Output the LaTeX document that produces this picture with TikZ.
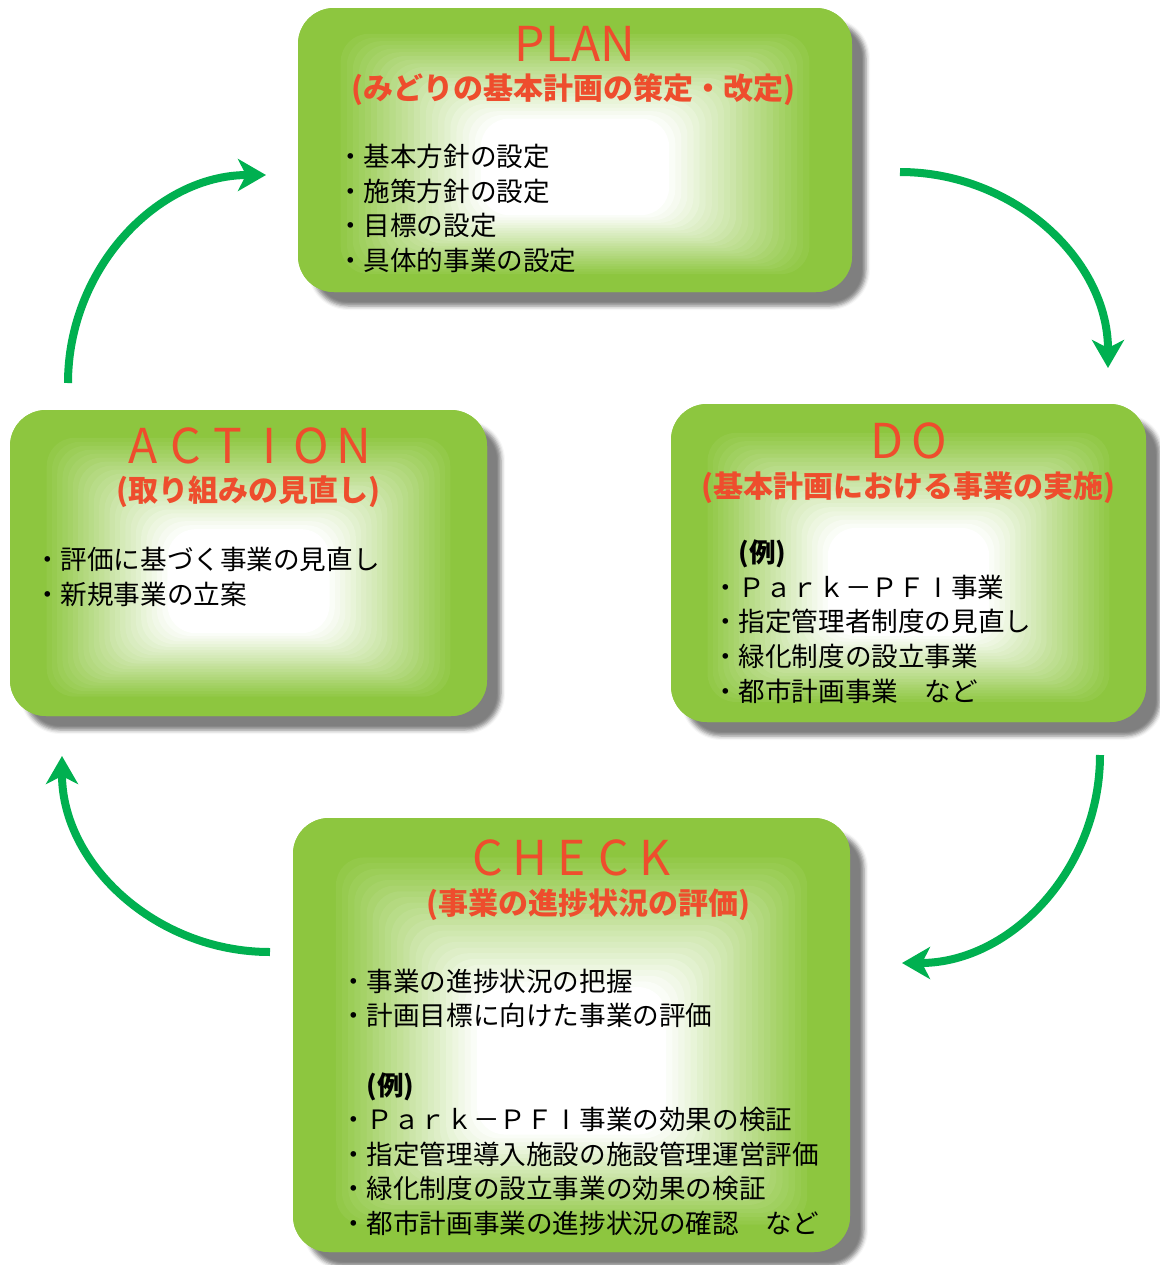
\documentclass[tikz,border=0pt]{standalone}
\usepackage{fontspec}
\setmainfont{Noto Sans CJK JP}
\usepackage{tikz}
\usetikzlibrary{arrows.meta,positioning,calc,shadows.blur}

\definecolor{stagegreen}{RGB}{141,198,63}
\definecolor{titlered}{RGB}{238,77,45}
\definecolor{cyclegreen}{RGB}{0,176,80}

% one spaced title letter, and the plain bar I used in "PFI"
\newcommand\wl[1]{\makebox[21pt]{#1}}
\newcommand\barI{\makebox[1em]{I}}

\begin{document}
\begin{tikzpicture}[
        x=0.5pt, y=-0.5pt,
        every node/.style={inner sep=0pt},
        stage/.style={rounded corners=18pt, fill=stagegreen,
            blur shadow={shadow xshift=7pt, shadow yshift=-7pt, shadow blur radius=2pt, shadow opacity=50},
            path picture={
                \coordinate (glow) at ($(path picture bounding box.center)!0.18!(path picture bounding box.south)$);
                \foreach \k in {0,...,36}{
                    \pgfmathsetmacro\sc{1-0.022*\k}
                    \pgfmathtruncatemacro\pc{max(0,min(100,125-150*\k/36))}
                    \fill[stagegreen!\pc!white, rounded corners=14pt]
                        ($(glow)!\sc!(path picture bounding box.south west)$) rectangle
                        ($(glow)!\sc!(path picture bounding box.north east)$);
                }
            }},
        stagetitle/.style={text=titlered, font=\fontsize{24}{28}\selectfont},
        subtitle/.style={text=titlered, font=\fontsize{15}{18}\selectfont\bfseries},
        items/.style={anchor=north west, align=left, font=\fontsize{13.3}{17.3}\selectfont},
        cyclearrow/.style={-{Stealth[length=14pt, width=16pt, inset=4pt]}, line width=4pt, cyclegreen}
    ]
        \useasboundingbox (0,0) rectangle (1160,1265);

        % the four stages
        \node[stage, minimum width=277pt, minimum height=142pt] (plan) at (575,150) {};
        \node[stage, minimum width=237.5pt, minimum height=159pt] (do) at (908.5,563) {};
        \node[stage, minimum width=238.5pt, minimum height=153pt] (action) at (248.5,563) {};
        \node[stage, minimum width=278.5pt, minimum height=217pt] (check) at (571.5,1035) {};

        \node[stagetitle] (plan-title) at ($(plan.north)+(0,36)$) {PLAN};
        \node[subtitle] (plan-sub) at ($(plan.north)+(-2,82)$) {(みどりの基本計画の策定・改定)};
        \node[items] (plan-list) at ($(plan.north west)+(39,136)$) {・基本方針の設定\\・施策方針の設定\\・目標の設定\\・具体的事業の設定};

        \node[stagetitle] (do-title) at ($(do.north)+(0,37)$) {\wl{D}\wl{O}};
        \node[subtitle] (do-sub) at ($(do.north)+(0,84)$) {(基本計画における事業の実施)};
        \node[items] (do-list) at ($(do.north west)+(41,136)$) {\hspace*{1em}{\bfseries(例)}\\・Ｐａｒｋ－ＰＦ\barI 事業\\・指定管理者制度の見直し\\・緑化制度の設立事業\\・都市計画事業　など};

        \node[stagetitle] (action-title) at ($(action.north)+(0,36)$) {\wl{A}\wl{C}\wl{T}\wl{I}\wl{O}\wl{N}};
        \node[subtitle] (action-sub) at ($(action.north)+(0,82)$) {(取り組みの見直し)};
        \node[items] (action-list) at ($(action.north west)+(24,137)$) {・評価に基づく事業の見直し\\・新規事業の立案};

        \node[stagetitle] (check-title) at ($(check.north)+(0,40)$) {\wl{C}\wl{H}\wl{E}\wl{C}\wl{K}};
        \node[subtitle] (check-sub) at ($(check.north)+(17,87)$) {(事業の進捗状況の評価)};
        \node[items] (check-list) at ($(check.north west)+(47,151)$) {・事業の進捗状況の把握\\・計画目標に向けた事業の評価\\[17.3pt]\hspace*{1em}{\bfseries(例)}\\・Ｐａｒｋ－ＰＦ\barI 事業の効果の検証\\・指定管理導入施設の施設管理運営評価\\・緑化制度の設立事業の効果の検証\\・都市計画事業の進捗状況の確認　など};

        % cycle arrows
        \coordinate (plan-out) at (900,172);
        \coordinate (do-in) at (1108,368);
        \coordinate (do-out) at (1100,755);
        \coordinate (check-in) at (902,963);
        \coordinate (check-out) at (270,952);
        \coordinate (action-in) at (62,756);
        \coordinate (action-out) at (68,383);
        \coordinate (plan-in) at (266,175);

        \draw[cyclearrow] (plan-out) .. controls +(114,0) and +(0,-108) .. (do-in);
        \draw[cyclearrow] (do-out) .. controls +(0,114) and +(109,0) .. (check-in);
        \draw[cyclearrow] (check-out) .. controls +(-114,0) and +(0,108) .. (action-in);
        \draw[cyclearrow] (action-out) .. controls +(0,-114) and +(-109,0) .. (plan-in);
    \end{tikzpicture}
\end{document}
